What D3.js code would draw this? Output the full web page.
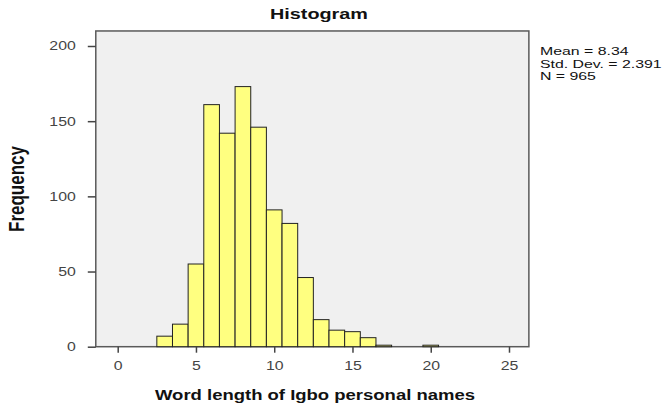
<!DOCTYPE html>
<html><head><meta charset="utf-8">
<script src="https://cdn.jsdelivr.net/npm/d3@7"></script>
<style>body{margin:0;background:#fff}</style>
</head><body>
<svg id="c" width="666" height="406"></svg>
<script>
const binCenters = [3,4,5,6,7,8,9,10,11,12,13,14,15,16,17,18,19,20];
const frequencies = [7,15,55,161,142,173,146,91,82,46,18,11,10,6,1,0,0,1];
const xTicks = [0,5,10,15,20,25];
const yTicks = [0,50,100,150,200];
const statsLines = ["Mean = 8.34","Std. Dev. = 2.391","N = 965"];

(function(){
const K = 1.32; // horizontal stretch of the reference
const svg = d3.select("#c");
const x = d3.scaleLinear().domain([0,25]).range([117.7,509]);
const y = d3.scaleLinear().domain([0,200]).range([346.7,46]);
const pl = x(-1.4), pr = x(26.27), pt = y(210), pb = y(0);

function stretch(sel, k){
  sel.each(function(){
    const w = this.getComputedTextLength();
    this.setAttribute("textLength", w*k);
    this.setAttribute("lengthAdjust","spacingAndGlyphs");
  });
}

svg.append("rect").attr("x",pl).attr("y",pt).attr("width",pr-pl).attr("height",pb-pt)
  .attr("fill","#f0f0f0").attr("stroke","#5a5a5a").attr("stroke-width",1.5);

svg.append("g").selectAll("rect").data(binCenters.map((c,i)=>({c,f:frequencies[i]})).filter(d=>d.f>0))
  .join("rect")
  .attr("x",d=>x(d.c-0.5)).attr("width",d=>x(d.c+0.5)-x(d.c-0.5))
  .attr("y",d=>y(d.f)).attr("height",d=>y(0)-y(d.f))
  .attr("fill","#ffff80").attr("stroke","#222").attr("stroke-width",1);

const font = "Arial, 'Liberation Sans', sans-serif";
const xa = svg.append("g").attr("transform",`translate(0,${pb})`)
  .call(d3.axisBottom(x).tickValues(xTicks).tickSize(6).tickPadding(9));
const ya = svg.append("g").attr("transform",`translate(${pl},0)`)
  .call(d3.axisLeft(y).tickValues(yTicks).tickSize(8).tickPadding(12));
[xa,ya].forEach(a=>{
  a.select(".domain").remove();
  a.selectAll(".tick line").attr("stroke","#444").attr("stroke-width",1.5);
  a.selectAll(".tick text").attr("fill","#444").style("font-family",font).style("font-size","12px");
  stretch(a.selectAll(".tick text"), K);
});

const t = svg.append("text").attr("x",319).attr("y",19).attr("text-anchor","middle")
  .style("font-family",font).style("font-weight","bold").style("font-size","15px").attr("fill","#111").text("Histogram");
stretch(t, K);
svg.append("text").attr("transform",`translate(16,189) scale(${K},1) rotate(-90)`).attr("text-anchor","middle")
  .attr("dy","0.35em")
  .style("font-family",font).style("font-weight","bold").style("font-size","17px").attr("fill","#111").text("Frequency");
const xl = svg.append("text").attr("x",315).attr("y",400).attr("text-anchor","middle")
  .style("font-family",font).style("font-weight","bold").style("font-size","14px").attr("fill","#111")
  .text("Word length of Igbo personal names");
stretch(xl, K);
const st = svg.append("g").selectAll("text").data(statsLines).join("text")
  .attr("x",540).attr("y",(d,i)=>55+i*12.5)
  .style("font-family",font).style("font-size","10.5px").attr("fill","#111").text(d=>d);
stretch(st, K*12/10.5);
})();
</script>
</body></html>
